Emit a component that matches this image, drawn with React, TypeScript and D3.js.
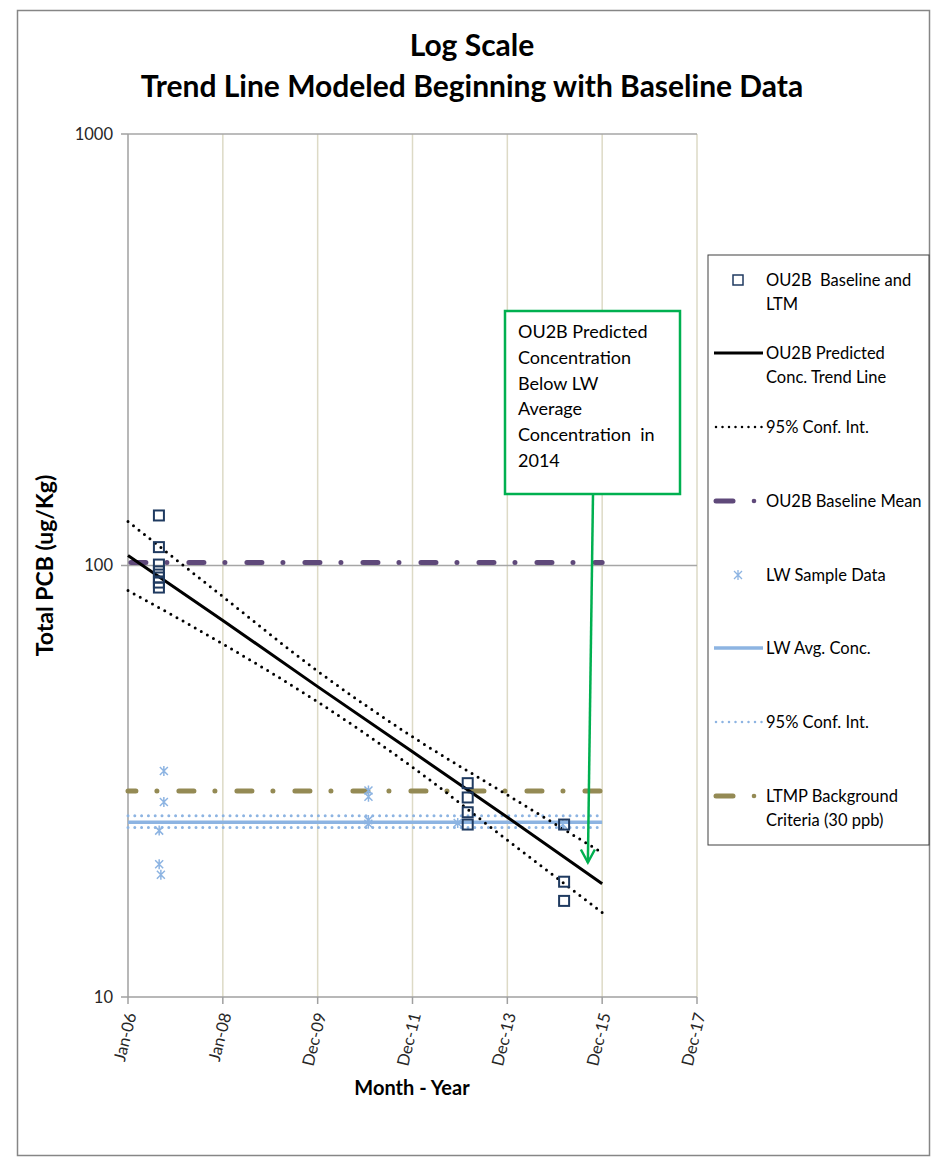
import * as d3 from "d3";

const FONT = "Lato, 'Open Sans', sans-serif";

// OU2B baseline + LTM samples (ug/Kg)
const ou2bDates = [
  "2006-08-27", "2006-08-27", "2006-08-27", "2006-08-27", "2006-08-27", "2006-08-27", "2006-08-27",
  "2013-02-28", "2013-02-28", "2013-02-28", "2013-02-28",
  "2015-03-12", "2015-03-12", "2015-03-12",
];
const ou2bValues = [130.6, 110.3, 100.5, 96.9, 93.8, 91.3, 88.9, 31.3, 29.0, 26.8, 25.1, 25.1, 18.5, 16.7];

// LW sample data
const lwDates = [
  "2006-10-04", "2006-10-04", "2006-08-29", "2006-08-29", "2006-09-11",
  "2011-01-26", "2011-01-26", "2011-01-25", "2011-01-25", "2012-12-13", "2015-03-02",
];
const lwValues = [33.4, 28.3, 24.3, 20.3, 19.2, 30.1, 29.1, 25.7, 25.2, 25.3, 25.1];

// predicted trend line and 95% confidence band
const trendDates = ["2006-01-01", "2008-01-01", "2009-12-31", "2011-12-31", "2013-12-30", "2015-12-30"];
const trendValues = [105.5, 74.6, 52.4, 37.0, 26.1, 18.3];
const trendUpper = [126.5, 84.7, 56.9, 40.1, 29.4, 21.6];
const trendLower = [87.5, 65.8, 48.3, 34.1, 23.1, 15.7];

// horizontal reference levels
const refDates = ["2006-01-01", "2015-12-30"];
const baselineMean = 101.6;
const lwAvg = 25.4;
const lwUpper = 26.3;
const lwLower = 24.7;
const ltmpCriteria = 30;

const xTickDates = ["2006-01-01", "2008-01-01", "2009-12-31", "2011-12-31", "2013-12-30", "2015-12-30", "2017-12-29"];
const yTicks = [10, 100, 1000];

const arrowTip = { date: "2015-09-11", value: 20.5 };

const annotationLines = ["OU2B Predicted", "Concentration", "Below LW", "Average", "Concentration  in", "2014"];

const parse = d3.timeParse("%Y-%m-%d");
const fmt = d3.timeFormat("%b-%y");

const W = 932, H = 1159;
const plot = { left: 128, right: 697, top: 134, bottom: 997 };

const NAVY = "#1F3A60";
const LIGHTBLUE = "#8DB4E2";
const PURPLE = "#5F497A";
const OLIVE = "#948A54";
const GREEN = "#00B050";

const starPath = "M-4,-4L4,4M-4,4L4,-4M0,-5L0,5";

export default function App() {
  const x = d3.scaleTime()
    .domain([parse(xTickDates[0])!, parse(xTickDates[xTickDates.length - 1])!])
    .range([plot.left, plot.right]);
  const y = d3.scaleLog().domain([10, 1000]).range([plot.bottom, plot.top]);

  const line = d3.line<[Date, number]>().x(d => x(d[0])).y(d => y(d[1]));
  const smooth = d3.line<[Date, number]>().x(d => x(d[0])).y(d => y(d[1])).curve(d3.curveMonotoneX);

  const tDates = trendDates.map(d => parse(d)!);
  const trendPts = tDates.map((d, i) => [d, trendValues[i]] as [Date, number]);
  const upperPts = tDates.map((d, i) => [d, trendUpper[i]] as [Date, number]);
  const lowerPts = tDates.map((d, i) => [d, trendLower[i]] as [Date, number]);
  const rDates = refDates.map(d => parse(d)!);
  const hline = (v: number) => line(rDates.map(d => [d, v] as [Date, number]))!;

  const tip = { x: x(parse(arrowTip.date)!), y: y(arrowTip.value) };
  const box = { x: 505, y: 311, w: 175, h: 183 };
  const arrowStart = { x: 593, y: box.y + box.h };

  const legendX = 766;
  const legendItems = [
    { y: 286, lines: ["OU2B  Baseline and", "LTM"], kind: "square" },
    { y: 359, lines: ["OU2B Predicted", "Conc. Trend Line"], kind: "trend" },
    { y: 433, lines: ["95% Conf. Int."], kind: "ci" },
    { y: 507, lines: ["OU2B Baseline Mean"], kind: "mean" },
    { y: 581, lines: ["LW Sample Data"], kind: "star" },
    { y: 654, lines: ["LW Avg. Conc."], kind: "lwavg" },
    { y: 728, lines: ["95% Conf. Int."], kind: "lwci" },
    { y: 802, lines: ["LTMP Background", "Criteria (30 ppb)"], kind: "ltmp" },
  ];

  const legendSymbol = (kind: string, cy: number) => {
    const sy = cy - 6;
    switch (kind) {
      case "square":
        return <rect x={733} y={sy - 5} width={10} height={10} fill="none" stroke={NAVY} strokeWidth={1.5} />;
      case "trend":
        return <line x1={714} x2={763} y1={sy} y2={sy} stroke="#000" strokeWidth={3} />;
      case "ci":
        return <line x1={716} x2={762} y1={sy} y2={sy} stroke="#000" strokeWidth={2.5} strokeDasharray="0 6.5" strokeLinecap="round" />;
      case "mean":
        return <g><line x1={716} x2={733} y1={sy} y2={sy} stroke={PURPLE} strokeWidth={5} strokeLinecap="round" />
          <circle cx={754} cy={sy} r={2.3} fill={PURPLE} /></g>;
      case "star":
        return <path d={starPath} transform={`translate(738,${sy})`} stroke={LIGHTBLUE} strokeWidth={1.3} fill="none" />;
      case "lwavg":
        return <line x1={714} x2={763} y1={sy} y2={sy} stroke={LIGHTBLUE} strokeWidth={3.5} />;
      case "lwci":
        return <line x1={716} x2={762} y1={sy} y2={sy} stroke={LIGHTBLUE} strokeWidth={2.5} strokeDasharray="0 6.5" strokeLinecap="round" />;
      case "ltmp":
        return <g><line x1={716} x2={733} y1={sy} y2={sy} stroke={OLIVE} strokeWidth={5} strokeLinecap="round" />
          <circle cx={754} cy={sy} r={2.3} fill={OLIVE} /></g>;
    }
    return null;
  };

  return (
    <svg width={W} height={H} style={{ position: "absolute", left: 0, top: 0, background: "#fff" }} fontFamily={FONT}>
      <rect x={17.5} y={10.5} width={912} height={1145} fill="#fff" stroke="#868686" strokeWidth={1.5} />

      {/* title */}
      <text x={472} y={56} textAnchor="middle" fontSize={30} fontWeight="bold">Log Scale</text>
      <text x={472} y={97} textAnchor="middle" fontSize={30} fontWeight="bold">Trend Line Modeled Beginning with Baseline Data</text>

      {/* gridlines */}
      {xTickDates.slice(1).map(d => (
        <line key={d} x1={x(parse(d)!)} x2={x(parse(d)!)} y1={plot.top} y2={plot.bottom} stroke="#DDDAC6" strokeWidth={1.5} />
      ))}
      {yTicks.slice(1).map(v => (
        <line key={v} x1={plot.left} x2={plot.right} y1={y(v)} y2={y(v)} stroke="#A6A6A6" strokeWidth={1.5} />
      ))}

      {/* axes */}
      <line x1={plot.left} x2={plot.left} y1={plot.top} y2={plot.bottom} stroke="#A0A0A0" strokeWidth={1.5} />
      <line x1={plot.left} x2={plot.right} y1={plot.bottom} y2={plot.bottom} stroke="#A0A0A0" strokeWidth={1.5} />
      {yTicks.map(v => (
        <g key={v}>
          <line x1={plot.left - 7} x2={plot.left} y1={y(v)} y2={y(v)} stroke="#A0A0A0" strokeWidth={1.5} />
          <text x={113} y={y(v)} dy="0.35em" textAnchor="end" fontSize={16.5} fill="#262626">{v}</text>
        </g>
      ))}
      {xTickDates.map(d => {
        const px = x(parse(d)!);
        return (
          <g key={d}>
            <line x1={px} x2={px} y1={plot.bottom} y2={plot.bottom + 7} stroke="#A0A0A0" strokeWidth={1.5} />
            <text transform={`translate(${px + 3},${plot.bottom + 16}) rotate(-76)`} dy="0.35em" textAnchor="end" fontSize={16.5} fill="#262626">{fmt(parse(d)!)}</text>
          </g>
        );
      })}

      <text transform={`translate(45,${(plot.top + plot.bottom) / 2}) rotate(-90)`} textAnchor="middle" dy="0.35em" fontSize={23} fontWeight="bold">Total PCB (ug/Kg)</text>
      <text x={412} y={1095} textAnchor="middle" fontSize={20} fontWeight="bold">Month - Year</text>

      {/* reference lines */}
      <path d={hline(baselineMean)} stroke={PURPLE} strokeWidth={5} fill="none" strokeLinecap="round" strokeDasharray="15 21 0.01 22" strokeDashoffset={-2.9} />
      <path d={hline(ltmpCriteria)} stroke={OLIVE} strokeWidth={5} fill="none" strokeLinecap="round" strokeDasharray="15 21 0.01 22" strokeDashoffset={7.1} />
      <path d={hline(lwAvg)} stroke={LIGHTBLUE} strokeWidth={3.5} fill="none" />
      <path d={hline(lwUpper)} stroke={LIGHTBLUE} strokeWidth={3} fill="none" strokeLinecap="round" strokeDasharray="0 6.8" />
      <path d={hline(lwLower)} stroke={LIGHTBLUE} strokeWidth={3} fill="none" strokeLinecap="round" strokeDasharray="0 6.8" />

      {/* trend + CI */}
      <path d={smooth(upperPts)!} stroke="#000" strokeWidth={3} fill="none" strokeLinecap="round" strokeDasharray="0 7" />
      <path d={smooth(lowerPts)!} stroke="#000" strokeWidth={3} fill="none" strokeLinecap="round" strokeDasharray="0 7" />
      <path d={line(trendPts)!} stroke="#000" strokeWidth={3} fill="none" />

      {/* LW samples */}
      {lwDates.map((d, i) => (
        <path key={"lw" + i} d={starPath} transform={`translate(${x(parse(d)!)},${y(lwValues[i])})`} stroke={LIGHTBLUE} strokeWidth={1.5} fill="none" />
      ))}

      {/* OU2B samples */}
      {ou2bDates.map((d, i) => (
        <rect key={"ou" + i} x={x(parse(d)!) - 5} y={y(ou2bValues[i]) - 5} width={10} height={10} fill="none" stroke={NAVY} strokeWidth={2} />
      ))}

      {/* annotation */}
      <rect x={box.x} y={box.y} width={box.w} height={box.h} fill="#fff" stroke={GREEN} strokeWidth={2.5} />
      {annotationLines.map((t, i) => (
        <text key={i} x={518} y={338 + i * 25.8} fontSize={18} fill="#000" style={{ whiteSpace: "pre" }}>{t}</text>
      ))}
      <line x1={arrowStart.x} y1={arrowStart.y} x2={tip.x} y2={tip.y} stroke={GREEN} strokeWidth={2.5} />
      <path d={`M${tip.x - 7},${tip.y - 13}L${tip.x},${tip.y}L${tip.x + 7},${tip.y - 13}`} stroke={GREEN} strokeWidth={2.5} fill="none" />

      {/* legend */}
      <rect x={708} y={255} width={221} height={590} fill="#fff" stroke="#404040" strokeWidth={1} />
      {legendItems.map((it, i) => (
        <g key={i}>
          {legendSymbol(it.kind, it.y)}
          {it.lines.map((t, j) => (
            <text key={j} x={legendX} y={it.y + j * 23.5} fontSize={16.5} fill="#000" style={{ whiteSpace: "pre" }}>{t}</text>
          ))}
        </g>
      ))}
    </svg>
  );
}
